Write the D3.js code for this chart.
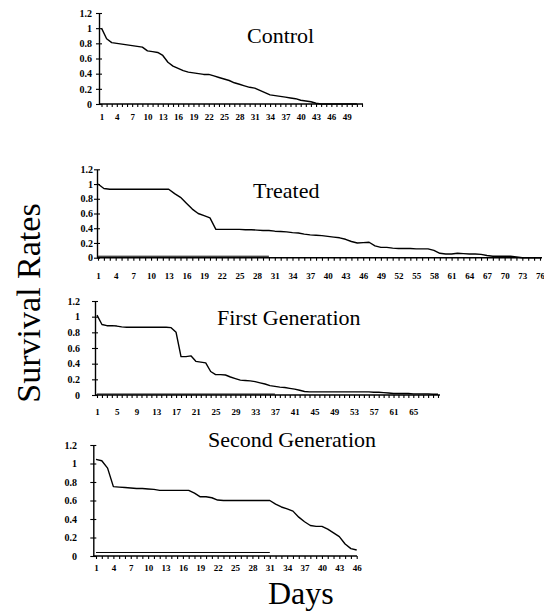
<!DOCTYPE html>
<html>
<head>
<meta charset="utf-8">
<script src="https://cdnjs.cloudflare.com/ajax/libs/d3/7.8.5/d3.min.js"></script>
<style>
body{margin:0;background:#fff;}
svg text{font-family:"Liberation Serif","Tinos","Times New Roman","DejaVu Serif","Noto Serif",serif;}
</style>
</head>
<body>
<svg id="ChartSvg" width="544" height="614"></svg>
<script>
// survival rate for each day, first value = day 1
var ControlRates = [1.0,0.86,0.81,0.80,0.79,0.78,0.77,0.76,0.75,0.70,
	0.69,0.68,0.64,0.55,0.50,0.47,0.44,0.42,0.41,0.40,
	0.39,0.39,0.37,0.35,0.33,0.31,0.28,0.26,0.24,0.22,
	0.21,0.18,0.15,0.12,0.11,0.10,0.09,0.08,0.07,0.05,
	0.04,0.03,0.01,0,0,0,0,0,0,0,0];
var TreatedRates = [1.0,0.94,0.93,0.93,0.93,0.93,0.93,0.93,0.93,0.93,
	0.93,0.93,0.93,0.87,0.82,0.74,0.66,0.60,0.57,0.54,
	0.385,0.385,0.385,0.385,0.385,0.38,0.38,0.375,0.37,0.37,
	0.36,0.355,0.35,0.34,0.335,0.32,0.31,0.305,0.30,0.29,
	0.28,0.27,0.25,0.22,0.20,0.205,0.21,0.16,0.14,0.14,
	0.13,0.125,0.125,0.125,0.12,0.12,0.12,0.10,0.06,0.05,
	0.05,0.06,0.055,0.05,0.05,0.045,0.03,0.02,0.02,0.02,
	0.02,0.01,0,0,0,0];
var FirstGenRates = [1.02,0.90,0.885,0.885,0.88,0.87,0.865,0.865,0.865,0.865,
	0.865,0.865,0.865,0.865,0.865,0.86,0.80,0.49,0.49,0.50,
	0.43,0.42,0.41,0.30,0.26,0.26,0.255,0.23,0.21,0.19,
	0.185,0.18,0.17,0.155,0.14,0.12,0.11,0.10,0.095,0.085,
	0.075,0.06,0.045,0.04,0.04,0.04,0.04,0.04,0.04,0.04,
	0.04,0.04,0.04,0.04,0.04,0.04,0.035,0.035,0.03,0.025,
	0.02,0.02,0.02,0.02,0.015,0.015,0.015,0.015,0.01,0.01];
var SecondGenRates = [1.045,1.03,0.95,0.75,0.745,0.74,0.735,0.73,0.73,0.725,
	0.72,0.71,0.71,0.71,0.71,0.71,0.71,0.68,0.64,0.64,
	0.63,0.605,0.60,0.60,0.60,0.60,0.60,0.60,0.60,0.60,
	0.60,0.56,0.53,0.51,0.485,0.42,0.37,0.33,0.32,0.32,
	0.29,0.25,0.21,0.13,0.08,0.065];

// faint line lying just over the axis: [first day, last day, rate]
var TreatedFloor = [1, 30, 0.02];
var FirstGenFloor = [1, 37, 0.012];
var SecondGenFloor = [1, 31, 0.038];

var PanelTitles = ["Control","Treated","First Generation","Second Generation"];
var YTicks = [0,0.2,0.4,0.6,0.8,1,1.2];
var YTickLabels = ["0","0.2","0.4","0.6","0.8","1","1.2"];
var ControlDayLabels = [1,4,7,10,13,16,19,22,25,28,31,34,37,40,43,46,49];
var TreatedDayLabels = [1,4,7,10,13,16,19,22,25,28,31,34,37,40,43,46,49,52,55,58,61,64,67,70,73,76];
var FirstGenDayLabels = [1,5,9,13,17,21,25,29,33,37,41,45,49,53,57,61,65];
var SecondGenDayLabels = [1,4,7,10,13,16,19,22,25,28,31,34,37,40,43,46];

var Svg = d3.select("#ChartSvg");

function DrawPanel(Rates, Floor, DayLabels, Title, P)
{
	var x = d3.scaleLinear().domain([1, P.lastDay]).range([P.x1, P.x2]);
	var y = d3.scaleLinear().domain([0, 1.2]).range([P.bottom, P.top]);
	var g = Svg.append('g');

	// x axis, one tick per day
	var XAxis = g.append('g')
		.attr('transform', 'translate(0,' + P.bottom + ')')
		.call(d3.axisBottom(x)
			.tickValues(d3.range(1, P.lastDay + 1))
			.tickSize(3)
			.tickSizeOuter(0)
			.tickPadding(P.xPad)
			.tickFormat(function(d){ return DayLabels.indexOf(d) >= 0 ? d : ''; }));
	XAxis.select('.domain').remove();
	XAxis.append('line')
		.attr('x1', P.left).attr('x2', P.axisEnd)
		.attr('stroke', '#000').attr('stroke-width', 1.6);
	XAxis.selectAll('.tick line').attr('stroke-width', 1.1);
	XAxis.attr('font-family', null).attr('font-size', null);
	XAxis.selectAll('text')
		.style('font-size', '9px')
		.style('font-weight', 'bold')
		.attr('fill', '#000');

	// y axis, ticks crossing the line
	var YAxis = g.append('g')
		.attr('transform', 'translate(' + P.left + ',0)')
		.call(d3.axisLeft(y)
			.tickValues(YTicks)
			.tickSize(3)
			.tickSizeOuter(0)
			.tickPadding(P.left - P.labelRight - 3)
			.tickFormat(function(d,i){ return YTickLabels[i]; }));
	YAxis.select('.domain').attr('stroke-width', 1.4);
	YAxis.selectAll('.tick line').attr('x1', 3).attr('stroke-width', 1.1);
	YAxis.attr('font-family', null).attr('font-size', null);
	YAxis.selectAll('text')
		.style('font-size', '10px')
		.style('font-weight', 'bold')
		.attr('fill', '#000');

	var Line = d3.line()
		.x(function(d,i){ return x(i + 1); })
		.y(function(d){ return y(d); });

	if (Floor)
	{
		g.append('line')
			.attr('x1', x(Floor[0])).attr('x2', x(Floor[1]))
			.attr('y1', y(Floor[2])).attr('y2', y(Floor[2]))
			.attr('stroke', '#000').attr('stroke-width', 1);
	}

	g.append('path')
		.datum(Rates)
		.attr('d', Line)
		.attr('fill', 'none')
		.attr('stroke', '#000')
		.attr('stroke-width', 1.4)
		.attr('stroke-linejoin', 'round');

	g.append('text')
		.attr('x', P.titleX)
		.attr('y', P.titleY)
		.style('font-size', '22px')
		.text(Title);
}

DrawPanel(ControlRates, null, ControlDayLabels, PanelTitles[0],
	{lastDay:52, x1:101.5, x2:362, left:99, axisEnd:363, top:13, bottom:104, labelRight:92, xPad:7, titleX:247, titleY:43});
DrawPanel(TreatedRates, TreatedFloor, TreatedDayLabels, PanelTitles[1],
	{lastDay:76, x1:98, x2:540, left:97, axisEnd:542, top:169.3, bottom:257.7, labelRight:93, xPad:12, titleX:253, titleY:198});
DrawPanel(FirstGenRates, FirstGenFloor, FirstGenDayLabels, PanelTitles[2],
	{lastDay:70, x1:97, x2:438, left:95, axisEnd:440, top:301, bottom:395, labelRight:80, xPad:11, titleX:217, titleY:325});
DrawPanel(SecondGenRates, SecondGenFloor, SecondGenDayLabels, PanelTitles[3],
	{lastDay:46, x1:96, x2:356.7, left:93.3, axisEnd:357, top:445, bottom:556, labelRight:77, xPad:6, titleX:208, titleY:447});

Svg.append('text')
	.attr('transform', 'translate(40,303) rotate(-90)')
	.attr('text-anchor', 'middle')
	.style('font-size', '34px')
	.text('Survival Rates');

Svg.append('text')
	.attr('x', 268)
	.attr('y', 604)
	.style('font-size', '32px')
	.text('Days');
</script>
</body>
</html>
